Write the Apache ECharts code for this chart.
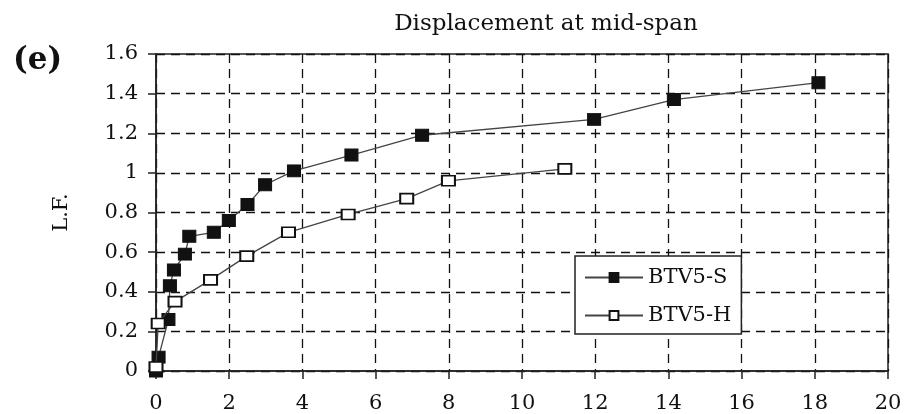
<!DOCTYPE html>
<html>
<head>
<meta charset="utf-8">
<script src="https://cdn.jsdelivr.net/npm/echarts@6/dist/echarts.min.js"></script>
<style>html,body{margin:0;padding:0;background:#fff}#c{width:909px;height:414px}</style>
</head>
<body>
<div id="c"></div>
<script>
const chartTitle = 'Displacement at mid-span';
const panelLabel = '(e)';
const yAxisName = 'L.F.';
const seriesNames = ['BTV5-S', 'BTV5-H'];
const sX = [0, 0.07, 0.34, 0.38, 0.49, 0.79, 0.91, 1.58, 1.99, 2.5, 2.98, 3.77, 5.34, 7.27, 11.97, 14.15, 18.1];
const sY = [0, 0.07, 0.26, 0.43, 0.51, 0.59, 0.68, 0.70, 0.76, 0.84, 0.94, 1.01, 1.09, 1.19, 1.27, 1.37, 1.455];
const hX = [0, 0.06, 0.52, 1.49, 2.48, 3.62, 5.25, 6.85, 7.99, 11.17];
const hY = [0.02, 0.24, 0.35, 0.46, 0.58, 0.70, 0.79, 0.87, 0.96, 1.02];

const font = 'DejaVu Serif';
const chart = echarts.init(document.getElementById('c'));
const zip = (a, b) => a.map((v, i) => [v, b[i]]);
chart.setOption({
  animation: false,
  backgroundColor: '#fff',
  title: [
    {text: chartTitle, left: 541, top: 8, textAlign: 'center',
     textStyle: {fontFamily: font, fontSize: 23, fontWeight: 'normal', color: '#111'}},
    {text: panelLabel, left: 8, top: 40,
     textStyle: {fontFamily: font, fontSize: 31, fontWeight: 'bold', color: '#111'}}
  ],
  grid: {left: 156, right: 21, top: 54, bottom: 43, show: true, borderColor: '#222', borderWidth: 1.5},
  legend: {
    left: 575, top: 256, width: 171, orient: 'vertical',
    padding: [11, 10, 8, 9], itemGap: 17,
    itemWidth: 58, itemHeight: 11,
    borderColor: '#222', borderWidth: 1.5, backgroundColor: '#fff',
    textStyle: {fontFamily: font, fontSize: 21, color: '#111'},
    data: seriesNames
  },
  xAxis: {
    type: 'value', min: 0, max: 20, interval: 2,
    axisLine: {show: true, lineStyle: {color: '#222', width: 1.5}},
    axisTick: {show: true, length: 8, lineStyle: {color: '#222', width: 1.5}},
    axisLabel: {fontFamily: font, fontSize: 21, color: '#111', margin: 22},
    splitLine: {show: true, lineStyle: {color: '#111', width: 1.3, type: [9, 6]}}
  },
  yAxis: {
    type: 'value', min: 0, max: 1.6, interval: 0.2,
    name: yAxisName, nameLocation: 'middle', nameGap: 84, nameRotate: 90,
    nameTextStyle: {fontFamily: font, fontSize: 21, color: '#111'},
    axisLine: {show: true, lineStyle: {color: '#222', width: 1.5}},
    axisTick: {show: true, length: 8, lineStyle: {color: '#222', width: 1.5}},
    axisLabel: {fontFamily: font, fontSize: 21, color: '#111', margin: 18},
    splitLine: {show: true, lineStyle: {color: '#111', width: 1.3, type: [9, 6]}}
  },
  series: [
    {name: seriesNames[0], type: 'line', data: zip(sX, sY), z: 3,
     symbol: 'rect', symbolSize: [13, 12], showAllSymbol: true,
     lineStyle: {color: '#444', width: 1.3},
     itemStyle: {color: '#111', borderColor: '#111', borderWidth: 1}},
    {name: seriesNames[1], type: 'line', data: zip(hX, hY), z: 4,
     symbol: 'rect', symbolSize: [13, 10], showAllSymbol: true,
     lineStyle: {color: '#444', width: 1.3},
     itemStyle: {color: '#fff', borderColor: '#111', borderWidth: 1.8}}
  ]
});
</script>
</body>
</html>
